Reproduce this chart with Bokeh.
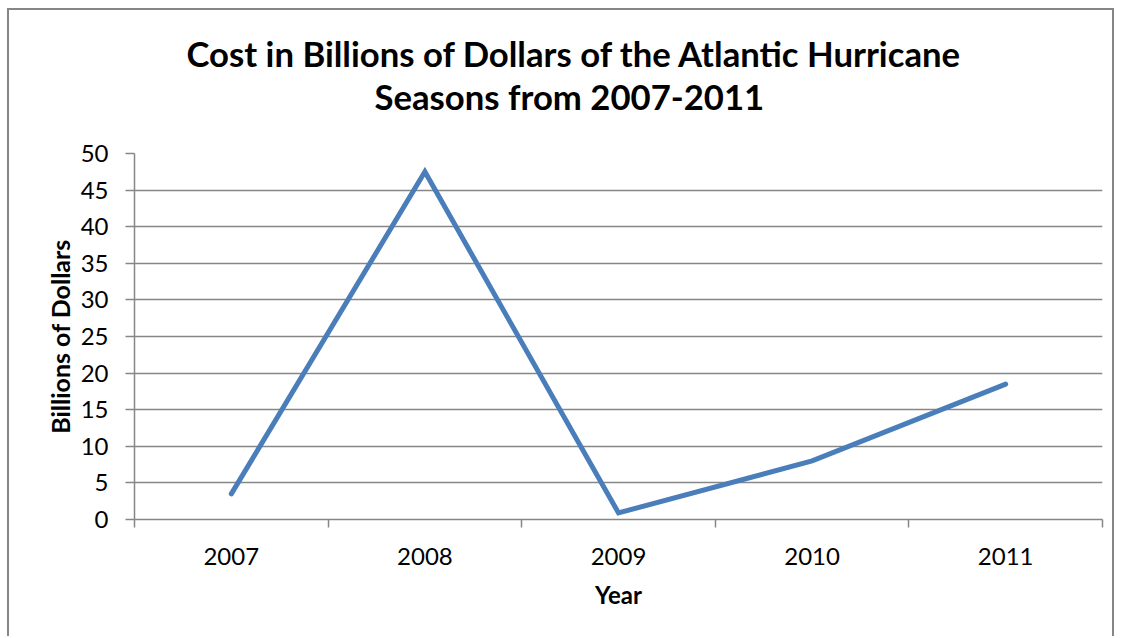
from bokeh.plotting import figure
from bokeh.models import FixedTicker, Range1d, Title
from bokeh.embed import file_html
from bokeh.resources import INLINE

years = ["2007", "2008", "2009", "2010", "2011"]
cost = [3.5, 47.5, 0.9, 8.0, 18.5]
y_ticks = [0, 5, 10, 15, 20, 25, 30, 35, 40, 45, 50]
title_lines = ["Cost in Billions of Dollars of the Atlantic Hurricane", "Seasons from  2007-2011"]

xs = [i + 0.5 for i in range(len(years))]

FONT = "Lato"
GRAY = "#868686"

p = figure(width=1107, height=628, output_backend="svg", toolbar_location=None,
           title=None,
           x_range=Range1d(0, len(years)), y_range=Range1d(0, 50),
           min_border_left=125, min_border_right=14, min_border_top=143, min_border_bottom=119)
p.styles = {"margin-left": "7px", "margin-top": "8px",
            "border-left": "2px solid #868686", "border-top": "2px solid #868686",
            "border-right": "2px solid #868686"}

spacer = Title(text=" ", text_font_size="1px", standoff=34, text_color="white")
t2 = Title(text=title_lines[1], align="left", offset=240, text_font=FONT, text_font_size="34.7px",
           text_font_style="bold", text_color="black", standoff=0)
t1 = Title(text=title_lines[0], align="left", offset=52, text_font=FONT, text_font_size="34.7px",
           text_font_style="bold", text_color="black", standoff=0)
p.add_layout(spacer, "above")
p.add_layout(t2, "above")
p.add_layout(t1, "above")

p.outline_line_color = None
p.background_fill_color = "white"
p.border_fill_color = "white"

p.line(xs, cost, line_color="#4A7EBB", line_width=5, line_cap="round", line_join="miter")

xa = p.xaxis[0]
xa.ticker = FixedTicker(ticks=xs, minor_ticks=list(range(len(years) + 1)))
xa.major_label_overrides = {x: y for x, y in zip(xs, years)}
xa.major_tick_line_color = None
xa.major_tick_out = 0
xa.major_tick_in = 0
xa.minor_tick_line_color = GRAY
xa.minor_tick_line_width = 1.5
xa.minor_tick_out = 8
xa.minor_tick_in = 0
xa.axis_line_color = GRAY
xa.axis_line_width = 1.5
xa.major_label_text_font = FONT
xa.major_label_text_font_size = "24px"
xa.major_label_text_color = "black"
xa.major_label_standoff = 20
xa.axis_label = "Year"
xa.axis_label_text_font = FONT
xa.axis_label_text_font_size = "24px"
xa.axis_label_text_font_style = "bold"
xa.axis_label_text_color = "black"
xa.axis_label_standoff = 12

ya = p.yaxis[0]
ya.ticker = FixedTicker(ticks=y_ticks)
ya.minor_tick_line_color = None
ya.major_tick_line_color = GRAY
ya.major_tick_line_width = 1.5
ya.major_tick_out = 9
ya.major_tick_in = 0
ya.axis_line_color = GRAY
ya.axis_line_width = 1.5
ya.major_label_text_font = FONT
ya.major_label_text_font_size = "24px"
ya.major_label_text_color = "black"
ya.major_label_standoff = 17
ya.axis_label = "Billions of Dollars"
ya.axis_label_text_font = FONT
ya.axis_label_text_font_size = "25px"
ya.axis_label_text_font_style = "bold"
ya.axis_label_text_color = "black"
ya.axis_label_standoff = 3

p.xgrid.grid_line_color = None
p.ygrid.grid_line_color = GRAY
p.ygrid.grid_line_width = 1.5

open("out.html", "w").write(file_html(p, INLINE))
